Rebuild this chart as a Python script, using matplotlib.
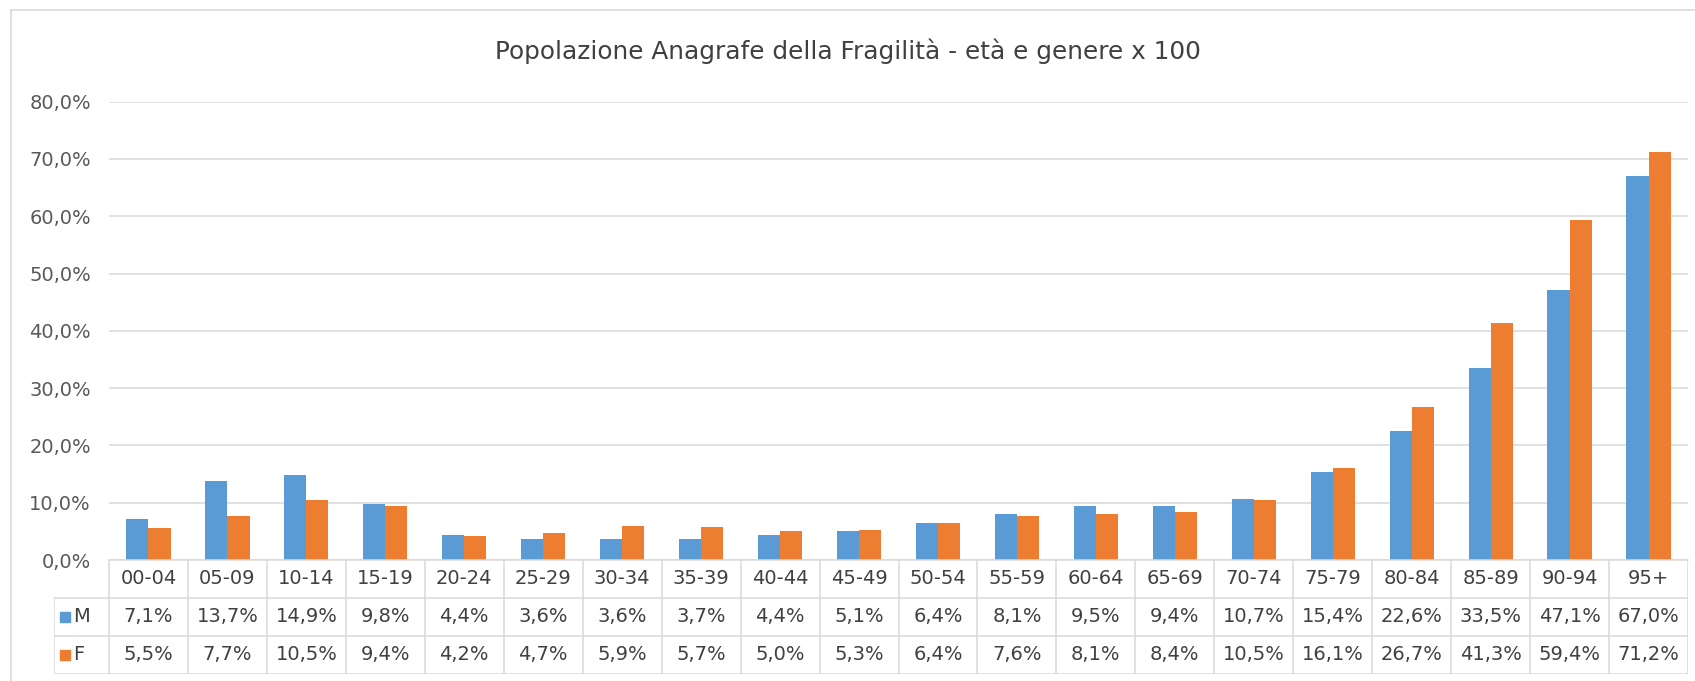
import matplotlib
matplotlib.use("Agg")
import matplotlib.pyplot as plt
from matplotlib.lines import Line2D

categories = ["00-04", "05-09", "10-14", "15-19", "20-24", "25-29", "30-34", "35-39",
              "40-44", "45-49", "50-54", "55-59", "60-64", "65-69", "70-74", "75-79",
              "80-84", "85-89", "90-94", "95+"]
series_names = ["M", "F"]
values_m = [7.1, 13.7, 14.9, 9.8, 4.4, 3.6, 3.6, 3.7, 4.4, 5.1, 6.4, 8.1, 9.5, 9.4,
            10.7, 15.4, 22.6, 33.5, 47.1, 67.0]
values_f = [5.5, 7.7, 10.5, 9.4, 4.2, 4.7, 5.9, 5.7, 5.0, 5.3, 6.4, 7.6, 8.1, 8.4,
            10.5, 16.1, 26.7, 41.3, 59.4, 71.2]
yticks = [0, 10, 20, 30, 40, 50, 60, 70, 80]
title = "Popolazione Anagrafe della Fragilità - età e genere x 100"

BLUE = "#5B9BD5"
ORANGE = "#ED7D31"
GRID = "#D9D9D9"
TXT = "#595959"
TTXT = "#404040"

plt.rcParams['font.family'] = ['DejaVu Sans']

W, H = 1695, 681
fig = plt.figure(figsize=(W / 100, H / 100), dpi=100)

# layout in pixels
px_left, px_right = 109, 1688
px_top, px_base = 101.6, 560
px_leg = 54
px_tbot = 674

ax = fig.add_axes([px_left / W, 1 - px_base / H, (px_right - px_left) / W, (px_base - px_top) / H])
n = len(categories)
xs = list(range(n))
bw = 0.28
ax.bar([x - bw / 2 for x in xs], values_m, width=bw, color=BLUE, zorder=3)
ax.bar([x + bw / 2 for x in xs], values_f, width=bw, color=ORANGE, zorder=3)
ax.set_xlim(-0.5, n - 0.5)
ax.set_ylim(0, 80)
ax.set_yticks(yticks)
ax.set_yticklabels([f"{v:.1f}%".replace(".", ",") for v in yticks], color=TXT, fontsize=14)
ax.tick_params(axis='y', length=0, pad=13)
ax.set_xticks([])
ax.grid(axis='y', color=GRID, linewidth=1.1, zorder=0)
for s in ["top", "right", "left"]:
    ax.spines[s].set_visible(False)
ax.spines["bottom"].set_color(GRID)
ax.spines["bottom"].set_linewidth(1.1)
ax.spines["bottom"].set_zorder(4)

# data table axes
tax = fig.add_axes([px_leg / W, 1 - px_tbot / H, (px_right - px_leg) / W, (px_tbot - px_base) / H])
unit = (px_right - px_left) / n
xleft = -0.5 - (px_left - px_leg) / unit
tax.set_xlim(xleft, n - 0.5)
tax.set_ylim(0, 3)
tax.axis("off")
lk = dict(color=GRID, linewidth=1.1)
for i in range(n + 1):
    tax.plot([i - 0.5, i - 0.5], [0, 3], **lk)
tax.plot([xleft, xleft], [0, 2], **lk)
for yy in [0, 1, 2]:
    tax.plot([xleft, n - 0.5], [yy, yy], **lk)

fs = 14
for i, c in enumerate(categories):
    tax.text(i, 2.5, c, ha="center", va="center", fontsize=fs, color=TTXT)
    tax.text(i, 1.5, f"{values_m[i]:.1f}%".replace(".", ","), ha="center", va="center", fontsize=fs, color=TTXT)
    tax.text(i, 0.5, f"{values_f[i]:.1f}%".replace(".", ","), ha="center", va="center", fontsize=fs, color=TTXT)

mx = xleft + (65 - px_leg) / unit
lx = xleft + (73 - px_leg) / unit
for yy, name, col in [(1.5, series_names[0], BLUE), (0.5, series_names[1], ORANGE)]:
    tax.plot([mx], [yy], marker="s", markersize=7, color=col, linestyle="none")
    tax.text(lx, yy, name, ha="left", va="center", fontsize=fs, color=TTXT)

fig.text(0.5, 1 - 51 / H, title, ha="center", va="center", fontsize=17.8, color=TTXT)

# chart area border (top and left visible)
fig.add_artist(Line2D([11 / W, 1], [1 - 10 / H, 1 - 10 / H], color=GRID, linewidth=1.2))
fig.add_artist(Line2D([11 / W, 11 / W], [0, 1 - 10 / H], color=GRID, linewidth=1.2))

fig.savefig("out.png", dpi=100, facecolor="white")
